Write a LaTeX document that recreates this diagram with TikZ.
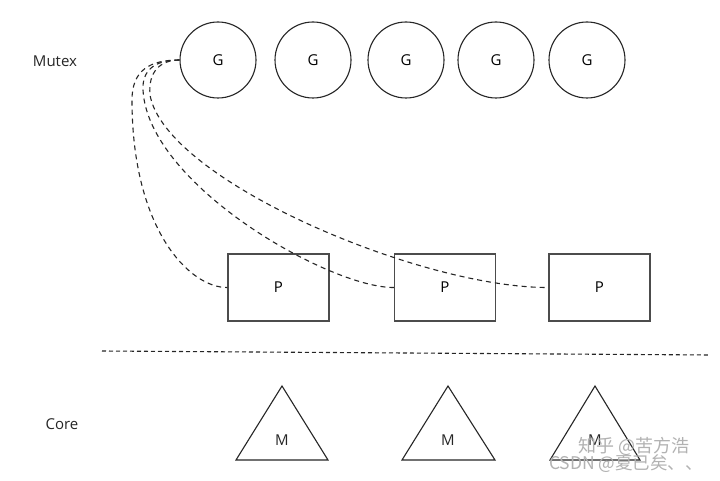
\documentclass[tikz,border=0pt]{standalone}
\usepackage{fontspec}
\setmainfont{Open Sans}
\newfontfamily\cjk{Noto Sans CJK SC}
\usetikzlibrary{shapes.geometric}
\begin{document}
\begin{tikzpicture}[x=1pt,y=-1pt,
  gnode/.style={circle,draw=black!85,line width=1.1pt,minimum size=76pt,inner sep=0pt,font=\fontsize{15}{17}\selectfont},
  pnode/.style={rectangle,draw=black!70,line width=1.3pt,minimum width=101pt,minimum height=67pt,inner sep=0pt,font=\fontsize{15}{17}\selectfont},
  mnode/.style={draw=black!85,line width=1.1pt,inner sep=0pt},
  lbl/.style={font=\fontsize{15}{17}\selectfont,text=black!85},
  dline/.style={line width=1.1pt,dash pattern=on 5pt off 4pt,black!85},
  wm/.style={text=black!30,font=\cjk\fontsize{18}{20}\selectfont,inner sep=0pt}]
\useasboundingbox (0,0) rectangle (720,481);
\fill[white] (0,0) rectangle (720,481);
\node[lbl] (mutex) at (55,61) {Mutex};
\node[lbl] (core) at (62,424) {Core};
\node[gnode] (g1) at (218,60) {G};
\node[gnode] (g2) at (313,60) {G};
\node[gnode] (g3) at (406,60) {G};
\node[gnode] (g4) at (496,60) {G};
\node[gnode] (g5) at (587,60) {G};
\node[pnode] (p1) at (278.5,287.5) {P};
\node[pnode] (p2) at (445,287.5) {P};
\node[pnode] (p3) at (599.5,287.5) {P};
\coordinate (sepL) at (102,351);
\coordinate (sepR) at (710,355);
\draw[dline,dash pattern=on 4pt off 3pt] (sepL) -- (sepR);
\foreach \n/\x/\l/\r in {m1/282/236/328, m2/448/402/495, m3/595/550/640}{
  \coordinate (\n a) at (\x,386);
  \coordinate (\n l) at (\l,460);
  \coordinate (\n r) at (\r,460);
  \draw[mnode] (\n a) -- (\n l) -- (\n r) -- cycle;
  \node[lbl] (\n) at (\x,440) {M};
}
\draw[dline] (g1.west) .. controls (150,60) and (132,70) .. (132,100)
  .. controls (132,230) and (190,288) .. (p1.west);
\draw[dline] (g1.west) .. controls (155,60) and (142,70) .. (143,90)
  .. controls (148,185) and (330,288) .. (p2.west);
\draw[dline] (g1.west) .. controls (160,60) and (148,72) .. (150,95)
  .. controls (165,180) and (420,288) .. (p3.west);
\node[wm] (wm1) at (634,446) {知乎 @苦方浩};
\node[wm,font=\cjk\fontsize{17.5}{19}\selectfont] (wm2) at (626,464) {CSDN @夏已矣、、};
\end{tikzpicture}
\end{document}
